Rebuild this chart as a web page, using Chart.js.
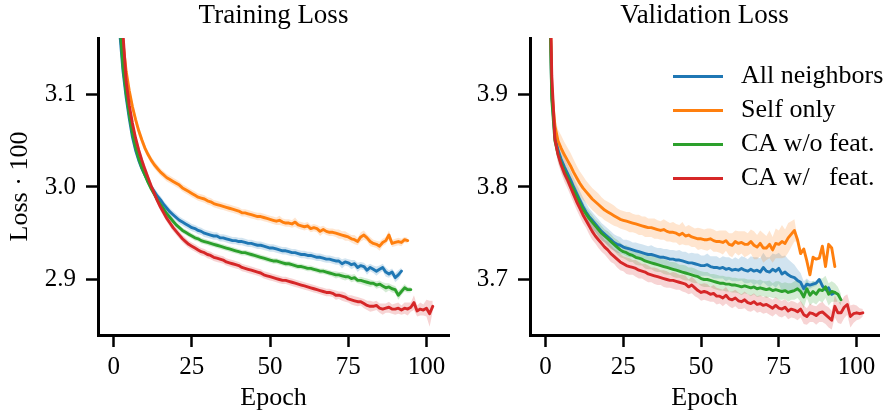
<!DOCTYPE html>
<html>
<head>
<meta charset="utf-8">
<script src="https://cdn.jsdelivr.net/npm/chart.js@4/dist/chart.umd.min.js"></script>
<style>
  html, body { margin: 0; padding: 0; background: #fff; }
  #wrap { position: relative; width: 888px; height: 416px; overflow: hidden; }
  canvas { position: absolute; top: 0; }
  #trainChart { left: 0; }
  #valChart { left: 460px; }
</style>
</head>
<body>
<div id="wrap">
  <canvas id="trainChart" width="460" height="416"></canvas>
  <canvas id="valChart" width="428" height="416"></canvas>
</div>
<script>
// series (shared by both panels)
const seriesLabels = ['All neighbors', 'Self only', 'CA w/o feat.', 'CA w/\u2002 feat.'];
const seriesColors = ['#1f77b4', '#ff7f0e', '#2ca02c', '#d62728'];
const bandColors = ['rgba(31,119,180,0.2)', 'rgba(255,127,14,0.2)', 'rgba(44,160,44,0.2)', 'rgba(214,39,40,0.2)'];

// x axis ticks
const epochTicks = [0, 25, 50, 75, 100];
const trainTicks = [2.9, 3.0, 3.1];
const valTicks = [3.7, 3.8, 3.9];

// Training loss (mean per epoch, epoch 1..N)
const trainAll = [
  3.400, 3.165, 3.125, 3.097, 3.074, 3.054, 3.040, 3.029, 3.020, 3.013,
  3.006, 3.000, 2.995, 2.990, 2.986, 2.981, 2.977, 2.973, 2.970, 2.967,
  2.964, 2.962, 2.960, 2.958, 2.956, 2.955, 2.953, 2.952, 2.950, 2.949,
  2.948, 2.947, 2.947, 2.945, 2.945, 2.944, 2.943, 2.942, 2.942, 2.941,
  2.941, 2.940, 2.939, 2.939, 2.938, 2.937, 2.937, 2.936, 2.935, 2.934,
  2.934, 2.933, 2.932, 2.931, 2.931, 2.930, 2.929, 2.929, 2.928, 2.927,
  2.927, 2.926, 2.926, 2.925, 2.924, 2.924, 2.923, 2.922, 2.922, 2.921,
  2.920, 2.920, 2.917, 2.919, 2.918, 2.916, 2.917, 2.913, 2.915, 2.914,
  2.910, 2.913, 2.911, 2.909, 2.911, 2.913, 2.908, 2.906, 2.908, 2.902,
  2.905, 2.909
];
const trainSelf = [
  3.450, 3.200, 3.156, 3.125, 3.104, 3.087, 3.073, 3.061, 3.051, 3.042,
  3.035, 3.029, 3.024, 3.020, 3.016, 3.013, 3.010, 3.008, 3.006, 3.004,
  3.002, 2.999, 2.997, 2.995, 2.993, 2.991, 2.989, 2.988, 2.987, 2.985,
  2.984, 2.982, 2.981, 2.980, 2.979, 2.978, 2.977, 2.976, 2.975, 2.974,
  2.972, 2.972, 2.971, 2.970, 2.969, 2.968, 2.968, 2.967, 2.966, 2.965,
  2.964, 2.963, 2.964, 2.962, 2.961, 2.961, 2.960, 2.962, 2.959, 2.958,
  2.957, 2.958, 2.955, 2.956, 2.955, 2.952, 2.954, 2.952, 2.951, 2.951,
  2.950, 2.949, 2.948, 2.947, 2.946, 2.944, 2.943, 2.941, 2.946, 2.948,
  2.945, 2.941, 2.939, 2.938, 2.936, 2.940, 2.942, 2.948, 2.939, 2.940,
  2.941, 2.940, 2.943, 2.942
];
const trainCaNoFeat = [
  3.420, 3.175, 3.130, 3.101, 3.078, 3.058, 3.043, 3.031, 3.021, 3.013,
  3.005, 2.998, 2.992, 2.986, 2.981, 2.976, 2.971, 2.967, 2.963, 2.959,
  2.956, 2.953, 2.951, 2.949, 2.947, 2.945, 2.944, 2.942, 2.941, 2.940,
  2.939, 2.938, 2.937, 2.936, 2.935, 2.934, 2.933, 2.932, 2.931, 2.930,
  2.929, 2.929, 2.928, 2.927, 2.926, 2.925, 2.924, 2.923, 2.922, 2.921,
  2.920, 2.920, 2.919, 2.918, 2.917, 2.917, 2.916, 2.915, 2.914, 2.914,
  2.913, 2.912, 2.912, 2.911, 2.910, 2.909, 2.909, 2.908, 2.907, 2.906,
  2.905, 2.905, 2.904, 2.903, 2.903, 2.901, 2.902, 2.899, 2.899, 2.898,
  2.897, 2.896, 2.896, 2.894, 2.895, 2.893, 2.891, 2.892, 2.890, 2.889,
  2.883, 2.887, 2.891, 2.889, 2.889
];
const trainCaFeat = [
  3.500, 3.230, 3.165, 3.114, 3.088, 3.069, 3.053, 3.040, 3.029, 3.019,
  3.010, 3.001, 2.993, 2.985, 2.978, 2.972, 2.966, 2.961, 2.956, 2.952,
  2.948, 2.944, 2.941, 2.938, 2.936, 2.934, 2.932, 2.930, 2.929, 2.927,
  2.926, 2.924, 2.923, 2.922, 2.921, 2.919, 2.918, 2.917, 2.916, 2.915,
  2.913, 2.912, 2.911, 2.910, 2.909, 2.908, 2.907, 2.905, 2.904, 2.903,
  2.902, 2.901, 2.900, 2.899, 2.899, 2.898, 2.897, 2.896, 2.895, 2.894,
  2.893, 2.892, 2.891, 2.890, 2.889, 2.888, 2.887, 2.886, 2.886, 2.885,
  2.883, 2.883, 2.882, 2.881, 2.879, 2.878, 2.877, 2.876, 2.876, 2.874,
  2.872, 2.871, 2.871, 2.872, 2.869, 2.868, 2.869, 2.870, 2.868, 2.868,
  2.869, 2.867, 2.869, 2.868, 2.870, 2.875, 2.866, 2.868, 2.867, 2.869,
  2.863, 2.871
];

// Training loss spread (std over runs)
const trainAllStd = [
  .006, .006, .005, .005, .005, .005, .005, .004, .004, .004,
  .004, .004, .004, .004, .004, .004, .004, .004, .004, .004,
  .004, .004, .004, .004, .004, .004, .004, .004, .004, .004,
  .004, .004, .004, .004, .004, .004, .004, .004, .004, .004,
  .004, .004, .004, .004, .004, .004, .004, .004, .004, .004,
  .004, .004, .004, .004, .004, .004, .004, .004, .004, .004,
  .004, .004, .004, .004, .004, .004, .004, .004, .004, .004,
  .004, .004, .005, .004, .004, .005, .004, .005, .004, .004,
  .005, .004, .004, .005, .004, .004, .005, .004, .004, .005,
  .005, .004
];
const trainSelfStd = [
  .007, .006, .006, .005, .005, .005, .005, .005, .005, .004,
  .004, .004, .004, .004, .004, .004, .004, .004, .004, .004,
  .004, .004, .004, .004, .004, .004, .004, .004, .004, .004,
  .004, .004, .004, .004, .004, .004, .004, .004, .004, .004,
  .004, .004, .004, .004, .004, .004, .004, .004, .004, .004,
  .004, .004, .005, .004, .004, .004, .004, .005, .004, .004,
  .004, .004, .004, .004, .004, .005, .004, .004, .004, .004,
  .004, .005, .004, .005, .004, .004, .005, .004, .005, .005,
  .004, .005, .004, .004, .005, .004, .004, .005, .004, .004,
  .004, .004, .003, .003
];
const trainCaNoFeatStd = [
  .006, .005, .005, .004, .004, .004, .004, .004, .004, .004,
  .003, .003, .003, .003, .003, .003, .003, .003, .003, .003,
  .003, .003, .003, .003, .003, .003, .003, .003, .003, .003,
  .003, .003, .003, .003, .003, .003, .003, .003, .003, .003,
  .003, .003, .003, .003, .003, .003, .003, .003, .003, .003,
  .003, .003, .003, .003, .003, .003, .003, .003, .003, .003,
  .003, .003, .003, .003, .003, .003, .003, .003, .003, .003,
  .004, .003, .004, .004, .003, .004, .004, .003, .004, .004,
  .004, .004, .003, .004, .004, .004, .005, .004, .004, .004,
  .005, .004, .004, .003, .003
];
const trainCaFeatStd = [
  .007, .006, .006, .005, .005, .005, .005, .005, .005, .005,
  .004, .004, .004, .004, .004, .004, .004, .004, .004, .004,
  .004, .004, .004, .004, .004, .004, .004, .004, .004, .004,
  .004, .004, .004, .004, .004, .004, .004, .004, .004, .004,
  .004, .004, .004, .004, .004, .004, .004, .004, .004, .004,
  .004, .004, .004, .004, .004, .004, .004, .004, .004, .004,
  .004, .004, .004, .004, .004, .004, .004, .004, .004, .004,
  .005, .004, .005, .005, .004, .005, .005, .005, .004, .005,
  .005, .006, .005, .005, .005, .006, .005, .006, .005, .006,
  .006, .005, .006, .007, .005, .008, .006, .007, .006, .009,
  .014, .006
];

// Validation loss (mean per epoch, epoch 1..N)
const valAll = [
  4.050, 3.900, 3.855, 3.840, 3.830, 3.822, 3.815, 3.808, 3.800, 3.793,
  3.786, 3.779, 3.773, 3.768, 3.764, 3.760, 3.756, 3.752, 3.749, 3.746,
  3.743, 3.740, 3.738, 3.737, 3.735, 3.734, 3.733, 3.732, 3.731, 3.730,
  3.729, 3.728, 3.727, 3.727, 3.726, 3.725, 3.724, 3.724, 3.723, 3.722,
  3.722, 3.721, 3.721, 3.720, 3.719, 3.718, 3.718, 3.717, 3.716, 3.715,
  3.715, 3.716, 3.714, 3.713, 3.713, 3.712, 3.713, 3.711, 3.712, 3.710,
  3.711, 3.710, 3.712, 3.710, 3.709, 3.711, 3.709, 3.710, 3.708, 3.713,
  3.709, 3.708, 3.711, 3.709, 3.712, 3.706, 3.708, 3.705, 3.703, 3.702,
  3.699, 3.697, 3.690, 3.695, 3.694, 3.695, 3.696, 3.700, 3.693, 3.689,
  3.691, 3.684, 3.686
];
const valSelf = [
  4.100, 3.905, 3.866, 3.850, 3.842, 3.835, 3.829, 3.823, 3.816, 3.810,
  3.804, 3.799, 3.795, 3.791, 3.787, 3.784, 3.781, 3.778, 3.775, 3.773,
  3.771, 3.769, 3.767, 3.765, 3.764, 3.763, 3.762, 3.761, 3.760, 3.759,
  3.758, 3.757, 3.756, 3.756, 3.755, 3.754, 3.753, 3.754, 3.752, 3.751,
  3.751, 3.750, 3.748, 3.750, 3.747, 3.748, 3.746, 3.745, 3.744, 3.744,
  3.743, 3.743, 3.744, 3.742, 3.741, 3.741, 3.740, 3.742, 3.738, 3.737,
  3.741, 3.739, 3.740, 3.738, 3.738, 3.741, 3.737, 3.735, 3.739, 3.734,
  3.734, 3.738, 3.732, 3.739, 3.738, 3.741, 3.739, 3.745, 3.749, 3.753,
  3.743, 3.728, 3.733, 3.720, 3.705, 3.724, 3.722, 3.723, 3.736, 3.714,
  3.738, 3.734, 3.714
];
const valCaNoFeat = [
  4.060, 3.895, 3.850, 3.836, 3.826, 3.818, 3.811, 3.804, 3.797, 3.790,
  3.783, 3.776, 3.771, 3.766, 3.762, 3.758, 3.754, 3.750, 3.747, 3.744,
  3.741, 3.738, 3.735, 3.732, 3.730, 3.729, 3.727, 3.726, 3.724, 3.723,
  3.722, 3.720, 3.719, 3.718, 3.717, 3.716, 3.715, 3.714, 3.713, 3.712,
  3.711, 3.710, 3.709, 3.708, 3.707, 3.706, 3.705, 3.704, 3.703, 3.701,
  3.700, 3.700, 3.699, 3.698, 3.697, 3.696, 3.696, 3.695, 3.695, 3.694,
  3.694, 3.693, 3.692, 3.693, 3.692, 3.691, 3.692, 3.690, 3.691, 3.690,
  3.689, 3.690, 3.688, 3.689, 3.688, 3.687, 3.688, 3.686, 3.687, 3.688,
  3.690, 3.687, 3.681, 3.690, 3.683, 3.687, 3.684, 3.689, 3.688, 3.692,
  3.684, 3.687, 3.686, 3.684, 3.678
];
const valCaFeat = [
  4.100, 3.920, 3.852, 3.835, 3.824, 3.815, 3.808, 3.800, 3.792, 3.784,
  3.777, 3.770, 3.764, 3.758, 3.752, 3.747, 3.743, 3.739, 3.735, 3.732,
  3.728, 3.725, 3.722, 3.719, 3.717, 3.715, 3.714, 3.713, 3.712, 3.710,
  3.709, 3.708, 3.706, 3.705, 3.704, 3.703, 3.702, 3.701, 3.700, 3.699,
  3.699, 3.698, 3.697, 3.696, 3.695, 3.692, 3.694, 3.691, 3.688, 3.686,
  3.687, 3.686, 3.684, 3.685, 3.682, 3.682, 3.680, 3.683, 3.679, 3.678,
  3.680, 3.677, 3.676, 3.678, 3.675, 3.674, 3.676, 3.673, 3.674, 3.672,
  3.673, 3.671, 3.669, 3.672, 3.669, 3.668, 3.670, 3.666, 3.668, 3.667,
  3.665, 3.668, 3.662, 3.660, 3.664, 3.663, 3.661, 3.664, 3.665, 3.662,
  3.659, 3.656, 3.671, 3.664, 3.664, 3.670, 3.673, 3.660, 3.663, 3.664,
  3.663, 3.664
];

// Validation loss spread (std over runs)
const valAllStd = [
  .012, .010, .009, .009, .010, .010, .010, .010, .010, .010,
  .010, .010, .010, .009, .009, .009, .009, .009, .009, .009,
  .009, .009, .009, .009, .008, .009, .009, .008, .009, .009,
  .009, .009, .009, .010, .009, .009, .010, .009, .010, .010,
  .010, .010, .011, .010, .011, .010, .011, .011, .012, .011,
  .011, .012, .011, .012, .012, .011, .012, .013, .012, .012,
  .013, .012, .013, .014, .013, .014, .015, .014, .015, .016,
  .015, .016, .017, .018, .017, .019, .018, .017, .016, .014,
  .012, .010, .008, .006, .004, .003, .003, .002, .002, .002,
  .002, .002, .002
];
const valSelfStd = [
  .015, .012, .010, .012, .014, .014, .014, .014, .014, .013,
  .013, .013, .012, .012, .012, .012, .012, .011, .011, .011,
  .011, .011, .010, .010, .010, .010, .011, .010, .010, .011,
  .010, .011, .010, .010, .011, .010, .010, .011, .011, .010,
  .011, .010, .011, .012, .010, .011, .011, .010, .012, .011,
  .011, .012, .011, .012, .011, .012, .013, .011, .012, .013,
  .012, .013, .012, .014, .012, .013, .015, .013, .014, .016,
  .013, .015, .014, .016, .015, .018, .015, .016, .014, .012,
  .002, .001, .001, .001, .001, .001, .001, .001, .001, .001,
  .001, .001, .001
];
const valCaNoFeatStd = [
  .012, .009, .008, .008, .008, .008, .008, .008, .008, .008,
  .008, .008, .007, .008, .008, .007, .008, .008, .007, .008,
  .008, .007, .008, .008, .007, .008, .008, .007, .008, .008,
  .007, .008, .008, .007, .008, .008, .007, .008, .008, .007,
  .008, .008, .007, .008, .008, .007, .008, .008, .007, .008,
  .008, .008, .007, .008, .008, .008, .008, .008, .008, .008,
  .008, .008, .009, .008, .008, .009, .008, .009, .009, .008,
  .009, .009, .008, .009, .010, .009, .009, .010, .009, .010,
  .010, .011, .012, .010, .011, .012, .011, .012, .013, .012,
  .012, .011, .010, .008, .006
];
const valCaFeatStd = [
  .012, .010, .009, .009, .009, .009, .009, .009, .009, .009,
  .009, .009, .008, .009, .009, .008, .009, .009, .008, .009,
  .009, .008, .009, .009, .008, .009, .009, .008, .009, .009,
  .008, .009, .009, .008, .009, .009, .008, .009, .009, .008,
  .009, .009, .008, .009, .009, .008, .009, .009, .008, .009,
  .009, .009, .008, .009, .009, .008, .009, .009, .008, .009,
  .009, .009, .008, .009, .009, .009, .009, .009, .009, .009,
  .009, .009, .009, .009, .009, .009, .009, .009, .009, .009,
  .009, .009, .010, .009, .010, .009, .010, .010, .011, .010,
  .011, .010, .012, .011, .012, .012, .011, .012, .010, .008,
  .006, .004
];

const FONT = '"Liberation Serif", "Times New Roman", serif';

// mean line + shaded band for every series; bands sit below all lines
function buildDatasets(means, stds) {
  const sets = [];
  means.forEach((m, s) => {
    const pts = (sign) => m.map((v, i) => ({ x: i + 1, y: v + sign * stds[s][i] }));
    const band = { pointRadius: 0, borderWidth: 0, borderColor: 'rgba(0,0,0,0)', order: 30 - s };
    sets.push({ ...band, data: pts(1), fill: false });
    sets.push({ ...band, data: pts(-1), fill: '-1', backgroundColor: bandColors[s] });
  });
  means.forEach((m, s) => {
    sets.push({
      label: seriesLabels[s],
      data: m.map((v, i) => ({ x: i + 1, y: v })),
      borderColor: seriesColors[s],
      borderWidth: 2.9,
      borderJoinStyle: 'round',
      borderCapStyle: 'round',
      pointRadius: 0,
      fill: false,
      order: 10 - s,
    });
  });
  return sets;
}

function makeOptions(cfg) {
  return {
    responsive: false,
    animation: false,
    layout: { padding: { left: 0, right: cfg.padRight, top: 0, bottom: 0 } },
    plugins: {
      legend: { display: false },
      tooltip: { enabled: false },
      title: {
        display: true,
        text: cfg.title,
        fullSize: false,
        color: '#000',
        font: { family: FONT, size: 27, weight: 'normal' },
        padding: { top: 0, bottom: 5.6 },
      },
    },
    scales: {
      x: {
        type: 'linear',
        min: -5,
        max: 107.2,
        border: { display: true, width: 3, color: '#000' },
        grid: { drawOnChartArea: false, drawTicks: true, tickLength: 12, tickWidth: 2.5, tickColor: '#000' },
        afterBuildTicks: (scale) => { scale.ticks = epochTicks.map((v) => ({ value: v })); },
        ticks: {
          autoSkip: false,
          maxRotation: 0,
          padding: 5,
          color: '#000',
          font: { family: FONT, size: 25 },
          callback: (v) => String(v),
        },
        title: {
          display: true,
          text: 'Epoch',
          color: '#000',
          font: { family: FONT, size: 26 },
          padding: { top: 0, bottom: 2.5 },
        },
        afterFit: (scale) => { scale.height = 81; },
      },
      y: {
        type: 'linear',
        min: cfg.yMin,
        max: cfg.yMax,
        border: { display: true, width: 3, color: '#000' },
        grid: { drawOnChartArea: false, drawTicks: true, tickLength: 12, tickWidth: 2.5, tickColor: '#000' },
        afterBuildTicks: (scale) => { scale.ticks = cfg.yTicks.map((v) => ({ value: v })); },
        ticks: {
          autoSkip: false,
          padding: 10,
          color: '#000',
          font: { family: FONT, size: 25 },
          callback: (v) => Number(v).toFixed(1),
        },
        title: {
          display: !!cfg.yTitle,
          text: cfg.yTitle || '',
          color: '#000',
          font: { family: FONT, size: 26 },
          padding: { top: 5, bottom: 0 },
        },
        afterFit: (scale) => { scale.width = cfg.yWidth; },
      },
    },
  };
}

// legend drawn inside the validation panel, top right
const insideLegend = {
  id: 'insideLegend',
  afterDraw(chart) {
    const ctx = chart.ctx;
    const x0 = chart.chartArea.right - 206;
    ctx.save();
    ctx.font = '26px ' + FONT;
    ctx.textBaseline = 'middle';
    ctx.textAlign = 'left';
    seriesLabels.forEach((label, i) => {
      const y = 76.5 + i * 34;
      ctx.strokeStyle = seriesColors[i];
      ctx.lineWidth = 3;
      ctx.lineCap = 'butt';
      ctx.beginPath();
      ctx.moveTo(x0, y);
      ctx.lineTo(x0 + 50, y);
      ctx.stroke();
      ctx.fillStyle = '#000';
      ctx.fillText(label, x0 + 68, y);
    });
    ctx.restore();
  },
};

new Chart(document.getElementById('trainChart'), {
  type: 'line',
  data: { datasets: buildDatasets([trainAll, trainSelf, trainCaNoFeat, trainCaFeat],
    [trainAllStd, trainSelfStd, trainCaNoFeatStd, trainCaFeatStd]) },
  options: makeOptions({
    title: 'Training Loss', yMin: 2.84, yMax: 3.161, yTicks: trainTicks,
    yTitle: 'Loss \u00b7 100', yWidth: 98, padRight: 11,
  }),
});

new Chart(document.getElementById('valChart'), {
  type: 'line',
  data: { datasets: buildDatasets([valAll, valSelf, valCaNoFeat, valCaFeat],
    [valAllStd, valSelfStd, valCaNoFeatStd, valCaFeatStd]) },
  options: makeOptions({
    title: 'Validation Loss', yMin: 3.64, yMax: 3.961, yTicks: valTicks,
    yTitle: '', yWidth: 70, padRight: 9,
  }),
  plugins: [insideLegend],
});
</script>
</body>
</html>
